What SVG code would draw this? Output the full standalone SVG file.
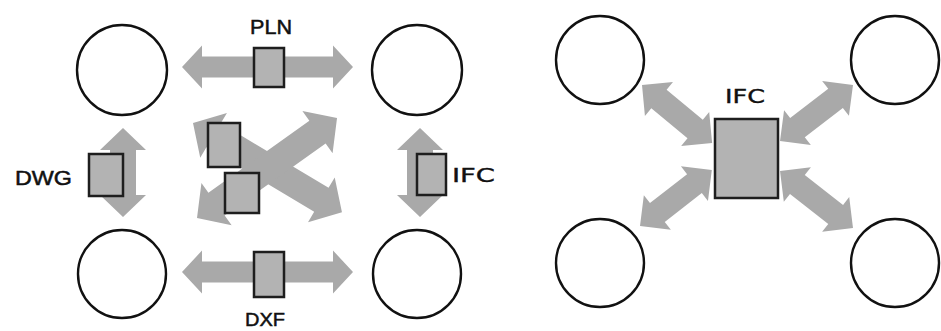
<svg xmlns="http://www.w3.org/2000/svg" width="941" height="331" viewBox="0 0 941 331">
<style>
.arr{fill:#a9a9a9;stroke:none}
.box{fill:#b3b3b3;stroke:#1e1e1e;stroke-width:2.5}
.node{fill:#fff;stroke:#111;stroke-width:2.4}
.lbl{font-family:"Liberation Sans",Arial,sans-serif;font-size:20px;fill:#111;stroke:#111;stroke-width:0.5}
.lbl2{font-family:"DejaVu Sans",Verdana,sans-serif;font-size:20px;fill:#111;stroke:#111;stroke-width:0.4}
</style>
<rect width="941" height="331" fill="#fff"/>
<g id="connectors">
  <path class="arr" transform="translate(182,67)" d="M0,0 L20,-21.5 L20,-10.5 L151,-10.5 L151,-21.5 L171,0 L151,21.5 L151,10.5 L20,10.5 L20,21.5 Z"/>
  <path class="arr" transform="translate(182,272)" d="M0,0 L20,-21.5 L20,-10.5 L151,-10.5 L151,-21.5 L171,0 L151,21.5 L151,10.5 L20,10.5 L20,21.5 Z"/>
  <path class="arr" transform="translate(123,128) rotate(90)" d="M0,0 L22,-23 L22,-13 L67,-13 L67,-23 L89,0 L67,23 L67,13 L22,13 L22,23 Z"/>
  <path class="arr" transform="translate(420,128) rotate(90)" d="M0,0 L22,-23 L22,-13 L67,-13 L67,-23 L89,0 L67,23 L67,13 L22,13 L22,23 Z"/>
  <path class="arr" transform="translate(193,123) rotate(30.9)" d="M0,0 L24,-26 L24,-14 L149.6,-14 L149.6,-26 L173.6,0 L149.6,26 L149.6,14 L24,14 L24,26 Z"/>
  <path class="arr" transform="translate(197,218) rotate(-35.5)" d="M0,0 L24,-26 L24,-14 L148,-14 L148,-26 L172,0 L148,26 L148,14 L24,14 L24,26 Z"/>
  <path class="arr" transform="translate(642,85) rotate(39.6)" d="M0,0 L22,-22 L22,-12 L69,-12 L69,-22 L91,0 L69,22 L69,12 L22,12 L22,22 Z"/>
  <path class="arr" transform="translate(853,85) rotate(142.5)" d="M0,0 L22,-22 L22,-12 L70,-12 L70,-22 L92,0 L70,22 L70,12 L22,12 L22,22 Z"/>
  <path class="arr" transform="translate(640,226) rotate(-37.9)" d="M0,0 L22,-22 L22,-12 L69,-12 L69,-22 L91,0 L69,22 L69,12 L22,12 L22,22 Z"/>
  <path class="arr" transform="translate(853,228) rotate(-142)" d="M0,0 L22,-22 L22,-12 L70.6,-12 L70.6,-22 L92.6,0 L70.6,22 L70.6,12 L22,12 L22,22 Z"/>
</g>
<g id="node-l-tl"><circle class="node" cx="122" cy="70" r="45"/></g>
<g id="node-l-tr"><circle class="node" cx="417" cy="70" r="45"/></g>
<g id="node-l-bl"><circle class="node" cx="122" cy="274" r="44"/></g>
<g id="node-l-br"><circle class="node" cx="417" cy="274" r="44"/></g>
<g id="node-r-tl"><circle class="node" cx="600" cy="60" r="44"/></g>
<g id="node-r-tr"><circle class="node" cx="895" cy="60" r="44"/></g>
<g id="node-r-bl"><circle class="node" cx="600" cy="263" r="44"/></g>
<g id="node-r-br"><circle class="node" cx="895" cy="263" r="44"/></g>
<g id="pln"><rect class="box" x="254" y="48" width="30" height="39"/><text class="lbl" x="250" y="34" textLength="42" lengthAdjust="spacingAndGlyphs">PLN</text></g>
<g id="dxf"><rect class="box" x="254" y="252" width="30" height="45"/><text class="lbl" x="245" y="326" font-size="19" style="font-size:19px" textLength="40" lengthAdjust="spacingAndGlyphs">DXF</text></g>
<g id="dwg"><rect class="box" x="89" y="154" width="34" height="42"/><text class="lbl" x="15" y="185" textLength="57" lengthAdjust="spacingAndGlyphs">DWG</text></g>
<g id="ifc-l"><rect class="box" x="417" y="154" width="29" height="41"/><text class="lbl2" x="452" y="182" textLength="43" lengthAdjust="spacingAndGlyphs">IFC</text></g>
<g id="x-box-1"><rect class="box" x="208" y="123" width="32" height="44"/></g>
<g id="x-box-2"><rect class="box" x="225" y="173" width="34" height="40"/></g>
<g id="ifc-r"><rect class="box" x="715" y="119" width="63" height="79"/><text class="lbl2" x="725" y="103" textLength="40" lengthAdjust="spacingAndGlyphs">IFC</text></g>
</svg>
